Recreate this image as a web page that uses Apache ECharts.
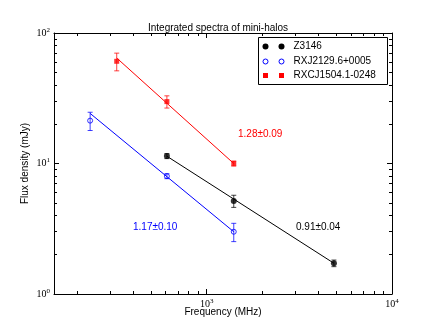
<!DOCTYPE html>
<html><head><meta charset="utf-8">
<script src="https://cdn.jsdelivr.net/npm/echarts@6/dist/echarts.min.js"></script>
<style>html,body{margin:0;padding:0;background:#fff}#c{width:436px;height:327px}</style>
</head><body><div id="c"></div>
<script>
// ---- data ----
const z3146Freq = [610, 1400, 4860];
const z3146Flux = [11.4, 5.16, 1.72];
const z3146Err  = [0.5, 0.55, 0.1];
const rxjFreq = [235, 610, 1400];
const rxjFlux = [21.3, 8.0, 3.0];
const rxjErr  = [3.4, 0.35, 0.48];
const rxcjFreq = [327, 610, 1400];
const rxcjFlux = [60.7, 29.8, 10.0];
const rxcjErr  = [9.4, 3.2, 0.45];
// fitted power laws (end points)
const z3146FitFreq = [610, 4860]; const z3146FitFlux = [11.37, 1.72];
const rxjFitFreq = [235, 1400];   const rxjFitFlux = [24.2, 3.0];
const rxcjFitFreq = [327, 1400];  const rxcjFitFlux = [64.3, 10.0];
const seriesNames = ['Z3146', 'RXJ2129.6+0005', 'RXCJ1504.1-0248'];
const fitLabels = ['0.91\u00b10.04', '1.17\u00b10.10', '1.28\u00b10.09'];
const xMajor = [1000, 10000];
const xMinor = [200,300,400,500,600,700,800,900,2000,3000,4000,5000,6000,7000,8000,9000];
const yMajor = [1, 10, 100];
const yMinor = [2,3,4,5,6,7,8,9,20,30,40,50,60,70,80,90];
const xMin = 150, xMax = 10000, yMin = 1, yMax = 100;

const zip2 = (a, b) => a.map((v, i) => [v, b[i]]);
const zip3 = (a, b, c) => a.map((v, i) => [v, b[i], c[i]]);
const supFmt = v => '{b|10}{s|' + Math.round(Math.log10(v)) + '}';
const rich = {
  b: {fontFamily: 'Liberation Serif', fontSize: 10, color: '#000'},
  s: {fontFamily: 'Liberation Serif', fontSize: 7, color: '#000', padding: [0, 0, 6, 0]}
};

function xAx(pos, ticks, len, label, line) {
  return {
    type: 'log', logBase: 10, min: xMin, max: xMax, position: pos,
    axisLine: {show: line, lineStyle: {color: '#000', width: 1}},
    axisTick: {show: true, inside: true, length: len, customValues: ticks, lineStyle: {color: '#000', width: 1}},
    axisLabel: label ? {show: true, customValues: ticks, formatter: supFmt, rich: rich, margin: 4} : {show: false},
    splitLine: {show: false}, minorTick: {show: false}, minorSplitLine: {show: false}
  };
}
function yAx(pos, ticks, len, label, line) {
  return {
    type: 'log', logBase: 10, min: yMin, max: yMax, position: pos,
    axisLine: {show: line, lineStyle: {color: '#000', width: 1}},
    axisTick: {show: true, inside: true, length: len, customValues: ticks, lineStyle: {color: '#000', width: 1}},
    axisLabel: label ? {show: true, customValues: ticks, formatter: supFmt, rich: rich, margin: 4} : {show: false},
    splitLine: {show: false}, minorTick: {show: false}, minorSplitLine: {show: false}
  };
}

const xAxes = [xAx('bottom', xMajor, 5, true, true), xAx('bottom', xMinor, 3, false, false),
               xAx('top', xMajor, 5, false, true), xAx('top', xMinor, 3, false, false)];
xAxes[0].name = 'Frequency (MHz)';
xAxes[0].nameLocation = 'middle';
xAxes[0].nameGap = 13;
xAxes[0].nameMoveOverlap = false;
xAxes[0].nameTextStyle = {fontFamily: 'Liberation Sans', fontSize: 10, color: '#000'};
const yAxes = [yAx('left', yMajor, 5, true, true), yAx('left', yMinor, 3, false, false),
               yAx('right', yMajor, 5, false, true), yAx('right', yMinor, 3, false, false)];
yAxes[0].name = 'Flux density (mJy)';
yAxes[0].nameLocation = 'middle';
yAxes[0].nameGap = 24;
yAxes[0].nameMoveOverlap = false;
yAxes[0].nameTextStyle = {fontFamily: 'Liberation Sans', fontSize: 10, color: '#000'};

function errSeries(data, color) {
  return {
    type: 'custom', data: data, encode: {x: 0, y: 1}, z: 3, silent: true,
    renderItem: function (params, api) {
      const x = api.value(0), y = api.value(1), e = api.value(2);
      const t = api.coord([x, y + e]), b = api.coord([x, y - e]);
      const w = 2.5;
      const st = {stroke: color, lineWidth: 1, opacity: 0.75};
      return {type: 'group', children: [
        {type: 'line', shape: {x1: t[0], y1: t[1], x2: b[0], y2: b[1]}, style: st},
        {type: 'line', shape: {x1: t[0] - w, y1: t[1], x2: t[0] + w, y2: t[1]}, style: st},
        {type: 'line', shape: {x1: b[0] - w, y1: b[1], x2: b[0] + w, y2: b[1]}, style: st}
      ]};
    }
  };
}
function fitSeries(data, color) {
  return {type: 'line', data: data, symbol: 'none', z: 2, silent: true,
    lineStyle: {color: color, width: 1}};
}
function ptSeries(name, data, symbol, size, color, open) {
  return {type: 'scatter', name: name, data: data, symbol: symbol, symbolSize: size, z: 4, silent: true,
    itemStyle: open ? {color: 'rgba(0,0,0,0)', borderColor: color, borderWidth: 1} : {color: color}};
}

const chart = echarts.init(document.getElementById('c'), null, {renderer: 'canvas'});
const legendRow = (y, marker, text) => [
  Object.assign({}, marker, {x: 7, y: y}),
  Object.assign({}, marker, {x: 23, y: y}),
  {type: 'text', x: 35, y: y, style: {text: text, fill: '#000', font: '10px "Liberation Sans"', verticalAlign: 'middle'}}
];
const dot = {type: 'circle', shape: {cx: 0, cy: 0, r: 3}, style: {fill: '#000'}};
const ring = {type: 'circle', shape: {cx: 0, cy: 0, r: 2.5}, style: {fill: 'none', stroke: '#0000ff', lineWidth: 1}};
const sq = {type: 'rect', shape: {x: -2.5, y: -2.5, width: 5, height: 5}, style: {fill: '#ff0000'}};

chart.setOption({
  animation: false,
  backgroundColor: '#fff',
  title: {text: 'Integrated spectra of mini-halos', left: 'center', top: 18,
    textStyle: {fontFamily: 'Liberation Sans', fontSize: 10, fontWeight: 'normal', color: '#000'}},
  grid: {left: 54, right: 44, top: 33, bottom: 33, containLabel: false, outerBoundsMode: 'none'},
  xAxis: xAxes,
  yAxis: yAxes,
  series: [
    fitSeries(zip2(z3146FitFreq, z3146FitFlux), '#000'),
    fitSeries(zip2(rxjFitFreq, rxjFitFlux), '#0000ff'),
    fitSeries(zip2(rxcjFitFreq, rxcjFitFlux), '#ff0000'),
    errSeries(zip3(z3146Freq, z3146Flux, z3146Err), '#000'),
    errSeries(zip3(rxjFreq, rxjFlux, rxjErr), '#0000ff'),
    errSeries(zip3(rxcjFreq, rxcjFlux, rxcjErr), '#ff0000'),
    ptSeries(seriesNames[0], zip2(z3146Freq, z3146Flux), 'circle', 6, '#000', false),
    ptSeries(seriesNames[1], zip2(rxjFreq, rxjFlux), 'circle', 5, '#0000ff', true),
    ptSeries(seriesNames[2], zip2(rxcjFreq, rxcjFlux), 'rect', 5, '#ff0000', false)
  ],
  graphic: [
    {type: 'text', left: 296, top: 222, style: {text: fitLabels[0], fill: '#000', font: '10px "Liberation Sans"'}},
    {type: 'text', left: 133, top: 222, style: {text: fitLabels[1], fill: '#0000ff', font: '10px "Liberation Sans"'}},
    {type: 'text', left: 238, top: 129, style: {text: fitLabels[2], fill: '#ff0000', font: '10px "Liberation Sans"'}},
    {type: 'group', left: 258, top: 37, children: [
      {type: 'rect', shape: {x: 0, y: 0, width: 129, height: 47}, style: {fill: '#fff', stroke: '#000', lineWidth: 1}}
    ].concat(legendRow(9, dot, seriesNames[0]), legendRow(24, ring, seriesNames[1]), legendRow(38, sq, seriesNames[2]))}
  ]
});
</script></body></html>
